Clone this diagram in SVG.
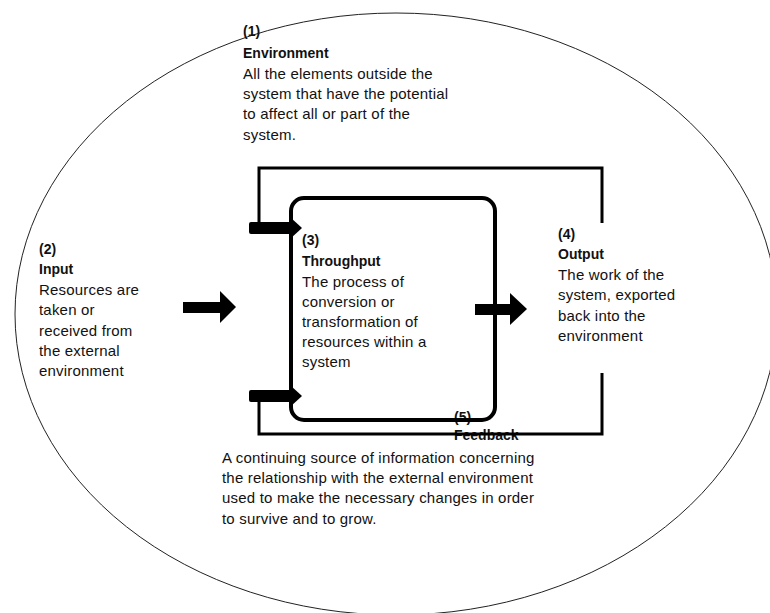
<svg xmlns="http://www.w3.org/2000/svg" width="770" height="613" viewBox="0 0 770 613">
<style>
text{font-family:"Liberation Sans",Arial,sans-serif;fill:#111}
.b{font-size:14px;font-weight:bold}
.r{font-size:15px;letter-spacing:0.2px}
.loop{fill:none;stroke:#000;stroke-width:3}
.box{fill:none;stroke:#000;stroke-width:4}
.arr{fill:#000}
</style>
<rect width="770" height="613" fill="#fff"/>
<g id="environment">
<ellipse cx="396" cy="314" rx="381" ry="301" fill="none" stroke="#222" stroke-width="1"/>
<text class="b" x="243" y="36">(1)</text>
<text class="b" x="243" y="58">Environment</text>
<text class="r" x="243" y="79">All the elements outside the</text>
<text class="r" x="243" y="99">system that have the potential</text>
<text class="r" x="243" y="119">to affect all or part of the</text>
<text class="r" x="243" y="140">system.</text>
</g>
<g id="input">
<text class="b" x="39" y="254">(2)</text>
<text class="b" x="39" y="274">Input</text>
<text class="r" x="39" y="295">Resources are</text>
<text class="r" x="39" y="315">taken or</text>
<text class="r" x="39" y="336">received from</text>
<text class="r" x="39" y="356">the external</text>
<text class="r" x="39" y="376">environment</text>
</g>
<g id="feedback">
<text class="b" x="454" y="422">(5)</text>
<text class="b" x="454" y="440">Feedback</text>
<text class="r" x="222" y="463">A continuing source of information concerning</text>
<text class="r" x="222" y="483">the relationship with the external environment</text>
<text class="r" x="222" y="503">used to make the necessary changes in order</text>
<text class="r" x="222" y="524">to survive and to grow.</text>
</g>
<g id="throughput">
<rect class="box" x="291" y="198" width="204" height="222" rx="13"/>
<text class="b" x="302" y="245">(3)</text>
<text class="b" x="302" y="266">Throughput</text>
<text class="r" x="302" y="287">The process of</text>
<text class="r" x="302" y="307">conversion or</text>
<text class="r" x="302" y="327">transformation of</text>
<text class="r" x="302" y="347">resources within a</text>
<text class="r" x="302" y="367">system</text>
</g>
<g id="output">
<text class="b" x="558" y="239">(4)</text>
<text class="b" x="558" y="259">Output</text>
<text class="r" x="558" y="280">The work of the</text>
<text class="r" x="558" y="300">system, exported</text>
<text class="r" x="558" y="321">back into the</text>
<text class="r" x="558" y="341">environment</text>
</g>
<g id="connectors">
<path class="loop" d="M259 228 V168 H602 V223"/>
<path class="loop" d="M602 373 V434 H259 V396"/>
<rect class="arr" x="249" y="222" width="44" height="12" rx="2"/>
<polygon class="arr" points="290,217 302,228 290,239"/>
<rect class="arr" x="249" y="390" width="44" height="12" rx="2"/>
<polygon class="arr" points="290,385 302,396 290,407"/>
<path class="arr" d="M183 302 H220 V291 L236 307 L220 323 V313 H183 Z"/>
<path class="arr" d="M475 304 H510 V293 L527 309 L510 325 V315 H475 Z"/>
</g>
</svg>
